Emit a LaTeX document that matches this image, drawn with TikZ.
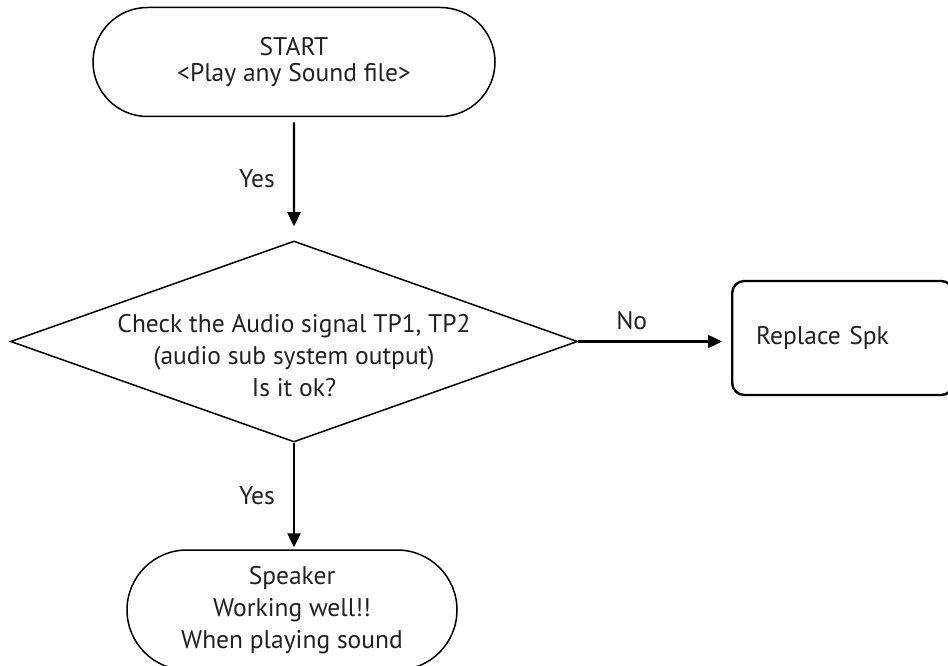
\documentclass[tikz,border=0pt]{standalone}
\usepackage{fontspec}
\setmainfont{PT Sans}
\usetikzlibrary{arrows.meta,shapes.geometric,shapes.misc}
\definecolor{ink}{HTML}{231F20}

\begin{document}
\begin{tikzpicture}[x=1pt,y=-1pt,
  font=\fontsize{25.5}{32}\selectfont,
  terminal/.style={rounded rectangle,draw=black,line width=1.5pt,align=center,
    text=ink,inner sep=0pt},
  decision/.style={diamond,draw=black,line width=1.5pt,inner sep=0pt},
  action/.style={rectangle,draw=black,rounded corners=12pt,line width=2.4pt,
    align=left,text=ink,inner xsep=24pt,inner ysep=0pt},
  flow/.style={-{Triangle[length=14pt,width=13pt]},line width=2.4pt},
  flowlabel/.style={text=ink,inner sep=0pt,align=center}
]
  \useasboundingbox (0,0) rectangle (948,666);
  \clip (0,0) rectangle (948,666);

  \node[terminal,minimum width=402pt,minimum height=109pt,
    font=\fontsize{25.5}{26}\selectfont] (start) at (294,62)
    {START\\<Play any Sound file>};
  \node[decision,minimum width=567pt,minimum height=201pt] (check) at (294,341.5) {};
  \node[flowlabel] (checktxt) at (294,356)
    {Check the Audio signal TP1, TP2\\(audio sub system output)\\Is it ok?};
  \node[action,text width=173pt,minimum height=114pt,anchor=west] (spk) at (731,338)
    {Replace Spk};
  \node[terminal,minimum width=330pt,minimum height=120pt] (done) at (292,610)
    {Speaker\\Working well!!\\When playing sound};

  \draw[flow,shorten <=5pt,shorten >=14pt] (start) -- node[flowlabel,left=18pt] {Yes} (check);
  \draw[flow,shorten >=9pt] (check.east) -- node[flowlabel,above=10pt,pos=0.35] {No} (spk.west |- check.east);
  \draw[flow,shorten >=2pt] (check.south) -- node[flowlabel,left=18pt] {Yes} (check.south |- done.north);
\end{tikzpicture}
\end{document}
